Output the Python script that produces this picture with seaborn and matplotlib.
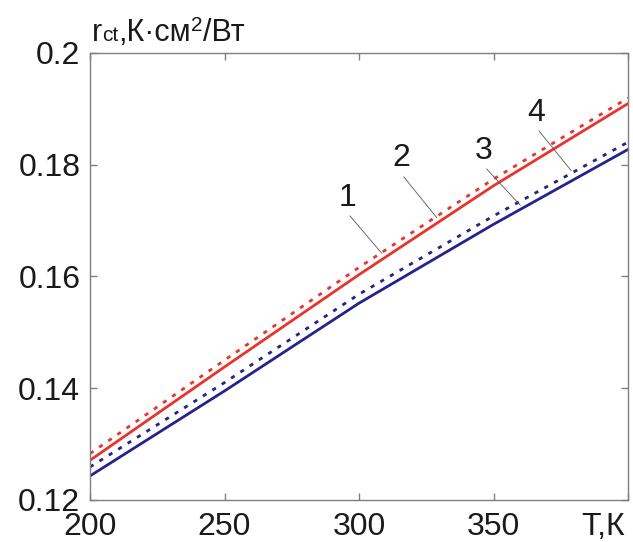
import pandas as pd
import matplotlib
matplotlib.use("Agg")
import matplotlib.pyplot as plt
import seaborn as sns

# data
T = [200, 250, 300, 350, 400]
r_curve1 = [0.1271, 0.1438, 0.1603, 0.1762, 0.1909]   # red, solid
r_curve2 = [0.1283, 0.1450, 0.1616, 0.1774, 0.1919]   # red, dashed
r_curve3 = [0.1259, 0.1410, 0.1568, 0.1708, 0.1840]   # blue, dashed
r_curve4 = [0.1243, 0.1395, 0.1552, 0.1693, 0.1827]   # blue, solid

x_ticks = [200, 250, 300, 350, 400]
x_ticklabels = ["200", "250", "300", "350", ""]
y_ticks = [0.12, 0.14, 0.16, 0.18, 0.2]
y_ticklabels = ["0.12", "0.14", "0.16", "0.18", "0.2"]

df = pd.concat([
    pd.DataFrame({"T": T, "r": r_curve1, "curve": "1"}),
    pd.DataFrame({"T": T, "r": r_curve2, "curve": "2"}),
    pd.DataFrame({"T": T, "r": r_curve3, "curve": "3"}),
    pd.DataFrame({"T": T, "r": r_curve4, "curve": "4"}),
], ignore_index=True)

sns.set_style("ticks")
plt.rcParams['font.family'] = ['Liberation Sans', 'DejaVu Sans']

red = "#e8342c"
blue = "#25238a"
palette = {"1": red, "2": red, "3": blue, "4": blue}
dashes = {"1": "", "2": (1.5, 2.5), "3": (1.5, 2.5), "4": ""}

fig = plt.figure(figsize=(6.33, 5.42), dpi=100)
ax = fig.add_axes([0.1422, 0.0775, 0.8499, 0.8253])

sns.lineplot(data=df, x="T", y="r", hue="curve", style="curve",
             palette=palette, dashes=dashes, linewidth=2.0,
             legend=False, ax=ax)

ax.set_xlim(200, 400)
ax.set_ylim(0.12, 0.2)
ax.set_xticks(x_ticks)
ax.set_xticklabels(x_ticklabels)
ax.set_yticks(y_ticks)
ax.set_yticklabels(y_ticklabels)
ax.set_xlabel("")
ax.set_ylabel("")

for s in ax.spines.values():
    s.set_visible(True)
    s.set_color("#7f7f7f")
    s.set_linewidth(1.0)
ax.tick_params(direction="in", length=5, width=1, color="#7f7f7f",
               top=True, right=True, labelsize=23, labelcolor="#1a1a1a")
ax.tick_params(axis="x", pad=9)
ax.tick_params(axis="y", pad=7)

# axis label for T, in place of the last x tick label
ax.text(0.995, -0.027, "Т,К", transform=ax.transAxes, ha="right", va="top",
        fontsize=23, color="#1a1a1a")

# y axis label: r_ct, K·cm^2/W  (built from pieces)
fig.canvas.draw()
renderer = fig.canvas.get_renderer()
x0 = 92 / 633
y0 = 1 - 41 / 542
pieces = [("r", 22, 0), ("ct", 15, 0), (",К·см", 22, 0), ("2", 15, 0.018), ("/Вт", 22, 0)]
for txt, size, dy in pieces:
    t = fig.text(x0, y0 + dy, txt, fontsize=size, color="#1a1a1a",
                 ha="left", va="baseline")
    bb = t.get_window_extent(renderer=renderer)
    x0 += bb.width / fig.bbox.width

# curve numbers with leader lines
labels_pos = [
    ("1", (308.5, 0.1641), (295.6, 0.1714)),
    ("2", (328.9, 0.1705), (315.6, 0.1784)),
    ("3", (360.0, 0.1727), (346.3, 0.1798)),
    ("4", (378.9, 0.1789), (365.9, 0.1866)),
]
for lab, xy, xytext in labels_pos:
    ax.annotate(lab, xy=xy, xytext=xytext, ha="center", va="bottom",
                fontsize=23, color="#1a1a1a",
                arrowprops=dict(arrowstyle="-", color="#555555", lw=0.6,
                                relpos=(0.5, 0.0), shrinkA=0, shrinkB=0))

fig.savefig("out.png", dpi=100)
